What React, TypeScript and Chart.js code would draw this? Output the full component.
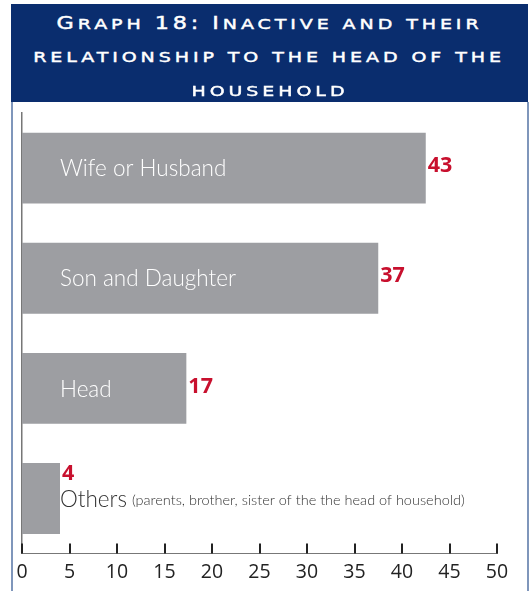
import React, { useEffect, useRef } from "react";
import { Chart, registerables } from "chart.js";

Chart.register(...registerables);

// ---- data ----
const titleLines = [
  "Graph 18: Inactive and their",
  "relationship to the head of the",
  "household",
];
const categories = ["Wife or Husband", "Son and Daughter", "Head", "Others"];
const categoryNotes = ["", "", "", "(parents, brother, sister of the the head of household)"];
const values = [42.5, 37.5, 17.3, 4.0];
const valueLabels = ["43", "37", "17", "4"];
const xTickValues = [0, 5, 10, 15, 20, 25, 30, 35, 40, 45, 50];

const BAR_COLOR = "#9d9ea2";
const VALUE_COLOR = "#c8102e";
const LABEL_FONT = "Lato";

function SmallCapsLine({ text }: { text: string }) {
  const runs: { big: boolean; s: string }[] = [];
  for (const ch of text) {
    const big = /[A-Z0-9:]/.test(ch);
    const last = runs[runs.length - 1];
    if (last && last.big === big) last.s += ch;
    else runs.push({ big, s: ch });
  }
  return (
    <div style={{ height: 34, lineHeight: "34px", whiteSpace: "nowrap" }}>
      <span style={{ display: "inline-block", transform: "scaleX(1.31)", transformOrigin: "center" }}>
        {runs.map((r, i) => (
          <span key={i} style={{ fontSize: r.big ? 17 : 14.5 }}>
            {r.s.toUpperCase()}
          </span>
        ))}
      </span>
    </div>
  );
}

export default function App() {
  const canvasRef = useRef<HTMLCanvasElement | null>(null);

  useEffect(() => {
    const canvas = canvasRef.current;
    if (!canvas) return;

    const barLabels = {
      id: "barLabels",
      afterDatasetsDraw(chart: any) {
        const ctx = chart.ctx as CanvasRenderingContext2D;
        const meta = chart.getDatasetMeta(0);
        const left = chart.chartArea.left;
        meta.data.forEach((bar: any, i: number) => {
          const { x, y } = bar.getProps(["x", "y"], true);
          ctx.save();
          ctx.textBaseline = "middle";
          ctx.textAlign = "left";
          ctx.font = `300 22.5px ${LABEL_FONT}`;
          const nameW = ctx.measureText(categories[i]).width;
          const textX = left + 38;
          const fits = textX + nameW < x;
          ctx.fillStyle = fits ? "#ffffff" : "#333333";
          ctx.fillText(categories[i], textX, y + 1);
          if (categoryNotes[i]) {
            ctx.font = `300 14.5px ${LABEL_FONT}`;
            ctx.fillText(categoryNotes[i], textX + nameW + 5, y + 2);
          }
          ctx.font = "bold 21.5px 'Open Sans'";
          ctx.fillStyle = VALUE_COLOR;
          ctx.fillText(valueLabels[i], x + 2, fits ? y - 2 : y - 25);
          ctx.restore();
        });
      },
    };

    const tickMarks = {
      id: "tickMarks",
      afterDraw(chart: any) {
        const ctx = chart.ctx as CanvasRenderingContext2D;
        const sx = chart.scales.x;
        const bottom = chart.chartArea.bottom;
        ctx.save();
        ctx.strokeStyle = "#222222";
        ctx.lineWidth = 2;
        xTickValues.forEach((v) => {
          const px = Math.round(sx.getPixelForValue(v));
          ctx.beginPath();
          ctx.moveTo(px, bottom - 10);
          ctx.lineTo(px, bottom);
          ctx.stroke();
        });
        ctx.restore();
      },
    };

    const chart = new Chart(canvas, {
      type: "bar",
      data: {
        labels: categories,
        datasets: [
          {
            data: values,
            backgroundColor: BAR_COLOR,
            borderWidth: 0,
            barPercentage: 1,
            categoryPercentage: 0.643,
          },
        ],
      },
      options: {
        indexAxis: "y",
        animation: false,
        responsive: false,
        maintainAspectRatio: false,
        layout: { padding: { top: 113, left: 22, right: 34, bottom: 0 } },
        plugins: {
          legend: { display: false },
          tooltip: { enabled: false },
          title: { display: false },
        },
        scales: {
          x: {
            min: 0,
            max: 50,
            afterBuildTicks: (scale: any) => {
              scale.ticks = xTickValues.map((v) => ({ value: v }));
            },
            ticks: {
              autoSkip: false,
              maxRotation: 0,
              padding: 7,
              color: "#222222",
              font: { size: 19.5, family: "'Open Sans'" },
            },
            grid: { display: false, drawTicks: false },
            border: { display: true, color: "#777777", width: 1 },
          },
          y: {
            ticks: { display: false },
            grid: { display: false, drawTicks: false },
            border: { display: true, color: "#777777", width: 1.5 },
          },
        },
      },
      plugins: [barLabels, tickMarks],
    });

    return () => chart.destroy();
  }, []);

  return (
    <div style={{ position: "absolute", left: 0, top: 0, width: 531, height: 591, background: "#fff", overflow: "hidden" }}>
      <div
        style={{
          position: "absolute",
          left: 11,
          top: 4,
          width: 517,
          height: 98,
          background: "#0a2d6e",
          color: "#ffffff",
          textAlign: "center",
          fontFamily: "'DejaVu Sans'",
          letterSpacing: "3px",
          WebkitTextStroke: "0.45px #ffffff",
          paddingTop: 2,
          boxSizing: "border-box",
          zIndex: 2,
        }}
      >
        {titleLines.map((t, i) => (
          <SmallCapsLine key={i} text={t} />
        ))}
      </div>
      <div style={{ position: "absolute", left: 11, top: 102, width: 1.5, height: 489, background: "#7f96bb" }} />
      <div style={{ position: "absolute", left: 527, top: 102, width: 1.5, height: 489, background: "#7f96bb" }} />
      <canvas
        ref={canvasRef}
        width={531}
        height={591}
        style={{ position: "absolute", left: 0, top: 0, width: 531, height: 591, zIndex: 1 }}
      />
    </div>
  );
}
